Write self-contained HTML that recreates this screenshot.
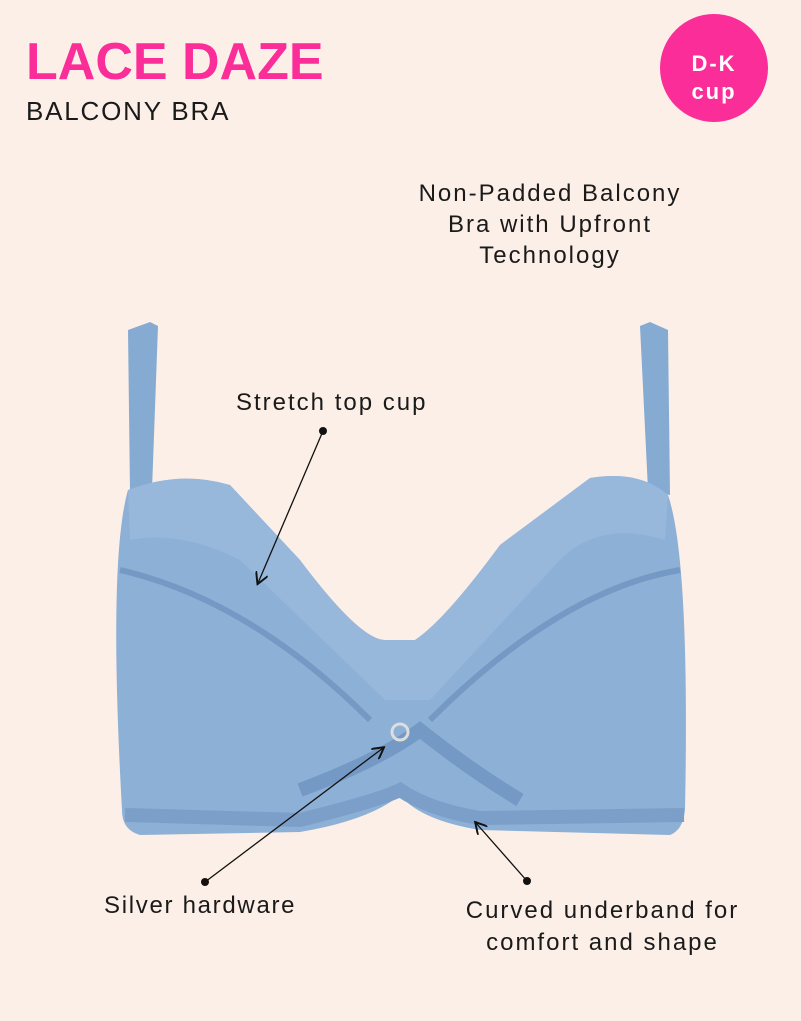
<!DOCTYPE html>
<html><head><meta charset="utf-8"><style>
html,body{margin:0;padding:0;background:#fcefe7;}
body{width:801px;height:1021px;position:relative;overflow:hidden;font-family:"Liberation Sans",sans-serif;}
.t{position:absolute;color:#1a1a1a;white-space:nowrap;}
</style></head><body>
<div class="t" style="left:26px;top:32px;font-size:52px;font-weight:bold;color:#fb2d99;letter-spacing:0px;">LACE DAZE</div>
<div class="t" style="left:26px;top:96px;font-size:26px;letter-spacing:1.8px;">BALCONY BRA</div>
<div style="position:absolute;left:660px;top:14px;width:108px;height:108px;border-radius:50%;background:#fb2d99;"></div>
<div class="t" style="left:660px;top:50px;width:108px;text-align:center;color:#fff;font-weight:bold;font-size:22px;line-height:28px;letter-spacing:2px;">D-K<br>cup</div>
<div class="t" style="left:370px;top:178px;width:360px;text-align:center;font-size:24px;line-height:31px;letter-spacing:2px;">Non-Padded Balcony<br>Bra with Upfront<br>Technology</div>
<svg width="801" height="1021" style="position:absolute;left:0;top:0">
<defs><marker id="a" markerWidth="10" markerHeight="10" refX="8" refY="5" orient="auto"><path d="M0,0 L9,5 L0,10" fill="none" stroke="#111" stroke-width="1.5"/></marker></defs>
<path d="M128,330 L150,322 L158,326 L152,490 L130,492 Z" fill="#86abd2"/>
<path d="M640,326 L650,322 L668,330 L670,495 L648,490 Z" fill="#86abd2"/>
<path d="M128,490 Q180,470 230,485 L300,560 Q360,640 385,640 L415,640 Q445,620 500,545 L590,478 Q640,470 668,495 Q690,560 685,810 Q683,830 670,835 L480,830 Q420,820 400,795 Q370,820 300,832 L140,835 Q122,830 122,810 Q108,560 128,490 Z" fill="#8db0d6"/>
<path d="M128,490 Q180,470 230,485 L300,560 Q360,640 385,640 L415,640 Q445,620 500,545 L590,478 Q640,470 668,495 L665,540 Q600,520 560,560 L430,700 L385,700 L240,560 Q180,530 130,540 Z" fill="#9ab9dc" opacity=".8"/>
<path d="M120,570 Q250,600 370,720 M680,570 Q560,590 430,720" stroke="#7499c4" stroke-width="6" fill="none"/>
<path d="M300,790 Q380,760 420,730 Q470,770 520,800" stroke="#7499c4" stroke-width="14" fill="none"/>
<path d="M125,815 L300,820 Q380,800 400,790 Q430,810 480,818 L684,815" stroke="#7b9fc8" stroke-width="14" fill="none"/>
<circle cx="400" cy="732" r="8" fill="none" stroke="#ddd" stroke-width="3"/>
<g stroke="#111" stroke-width="1.3" fill="none">
<line x1="323" y1="431" x2="258" y2="583" marker-end="url(#a)"/>
<line x1="205" y1="882" x2="383" y2="748" marker-end="url(#a)"/>
<line x1="527" y1="881" x2="476" y2="823" marker-end="url(#a)"/>
</g>
<g fill="#111"><circle cx="323" cy="431" r="4"/><circle cx="205" cy="882" r="4"/><circle cx="527" cy="881" r="4"/></g>
</svg>
<div class="t" style="left:236px;top:389px;font-size:24px;letter-spacing:2px;">Stretch top cup</div>
<div class="t" style="left:104px;top:892px;font-size:24px;letter-spacing:1.7px;">Silver hardware</div>
<div class="t" style="left:430px;top:895px;width:345px;text-align:center;font-size:24px;line-height:32px;letter-spacing:2px;">Curved underband for<br>comfort and shape</div>
</body></html>
